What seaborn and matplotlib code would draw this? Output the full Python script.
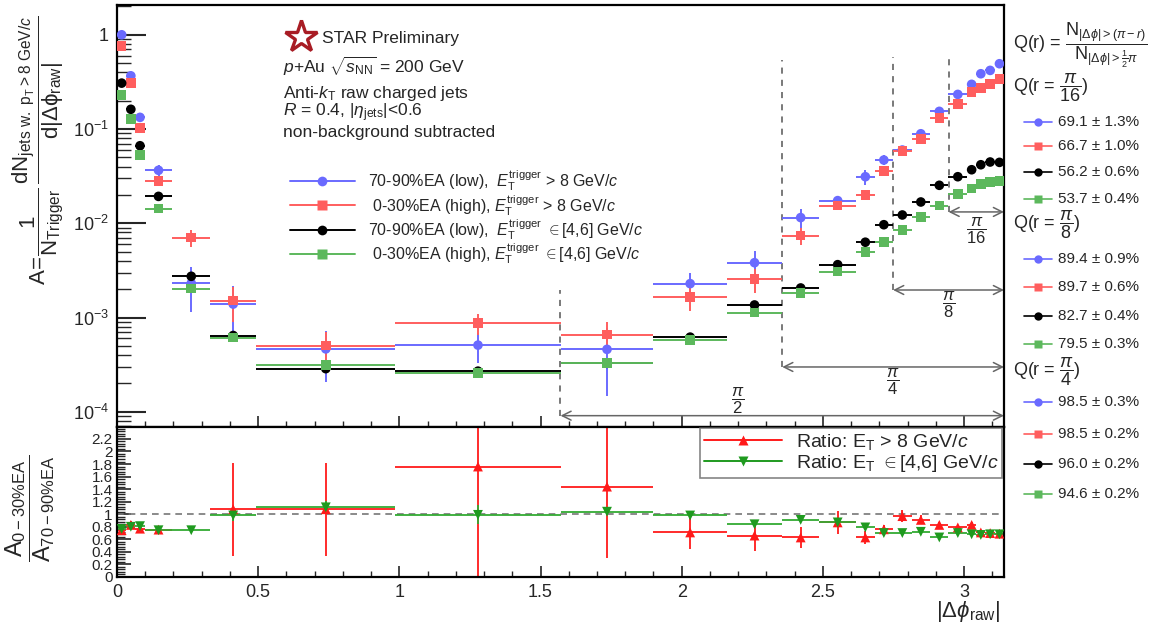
import numpy as np
import pandas as pd
import matplotlib
matplotlib.use("Agg")
import matplotlib.pyplot as plt
import matplotlib.ticker as mticker
from matplotlib.lines import Line2D
import seaborn as sns

sns.set_theme(style="white")
plt.rcParams["font.family"] = ["Liberation Sans", "DejaVu Sans"]
plt.rcParams["mathtext.fontset"] = "custom"
plt.rcParams["mathtext.rm"] = "Liberation Sans"
plt.rcParams["mathtext.it"] = "Liberation Sans:italic"
plt.rcParams["mathtext.bf"] = "Liberation Sans:bold"

# ---- data ----
bin_edges = [0, 0.033, 0.065, 0.098, 0.196, 0.33, 0.493, 0.986, 1.571, 1.90, 2.16, 2.356,
             2.487, 2.618, 2.683, 2.749, 2.814, 2.880, 2.945, 3.011, 3.043, 3.076, 3.109, 3.142]

low_high = [1.0, 0.367, 0.133, 0.0365, 2.31e-3, 1.39e-3, 4.65e-4, 5.1e-4, 4.6e-4, 2.29e-3, 3.82e-3,
            0.0115, 0.0174, 0.0312, 0.0469, 0.0599, 0.0891, 0.154, 0.233, 0.298, 0.386, 0.419, 0.493]
low_high_relerr = [0.02, 0.03, 0.05, 0.13, 0.5, 0.55, 0.55, 0.35, 0.68, 0.3, 0.33, 0.22, 0.1,
                   0.18, 0.12, 0.08, 0.06, 0.05, 0.03, 0.03, 0.03, 0.03, 0.03]
high_high = [0.764, 0.31, 0.103, 0.0281, 7.04e-3, 1.51e-3, 5.04e-4, 8.8e-4, 6.6e-4, 1.66e-3, 2.55e-3,
             7.4e-3, 0.0154, 0.0201, 0.0361, 0.0589, 0.0789, 0.130, 0.185, 0.247, 0.272, 0.30, 0.339]
high_high_relerr = [0.02, 0.03, 0.05, 0.08, 0.2, 0.4, 0.4, 0.25, 0.35, 0.3, 0.28, 0.2, 0.1,
                    0.12, 0.08, 0.06, 0.05, 0.04, 0.03, 0.03, 0.03, 0.03, 0.03]
low_mid = [0.307, 0.162, 0.0665, 0.0193, 2.74e-3, 6.45e-4, 2.87e-4, 2.7e-4, 3.27e-4, 6.2e-4, 1.36e-3,
           2.06e-3, 3.64e-3, 6.3e-3, 9.66e-3, 0.01225, 0.01683, 0.0253, 0.0312, 0.037, 0.0418, 0.0447, 0.0443]
low_mid_relerr = [0.01, 0.01, 0.02, 0.03, 0.08, 0.08, 0.1, 0.1, 0.1, 0.06, 0.05, 0.04, 0.04,
                  0.03, 0.03, 0.02, 0.02, 0.02, 0.02, 0.02, 0.02, 0.02, 0.02]
high_mid = [0.229, 0.127, 0.053, 0.0143, 2.03e-3, 6.12e-4, 3.12e-4, 2.6e-4, 3.3e-4, 5.8e-4, 1.13e-3,
            1.81e-3, 3.07e-3, 4.93e-3, 6.3e-3, 8.5e-3, 0.01166, 0.0154, 0.0206, 0.0235, 0.0263, 0.0274, 0.0281]
high_mid_relerr = [0.01, 0.01, 0.02, 0.03, 0.06, 0.06, 0.08, 0.08, 0.08, 0.05, 0.04, 0.03, 0.03,
                   0.02, 0.02, 0.02, 0.02, 0.02, 0.02, 0.02, 0.02, 0.02, 0.02]

ratio_high = [0.745, 0.83, 0.77, 0.755, np.nan, 1.08, 1.08, 1.76, 1.44, 0.71, 0.66, 0.63, 0.87,
              0.63, 0.76, 0.97, 0.91, 0.83, 0.79, 0.83, 0.71, 0.70, 0.69]
ratio_high_err = [0.05, 0.07, 0.07, 0.05, np.nan, 0.74, 0.74, 1.75, 1.14, 0.27, 0.25, 0.17, 0.18,
                  0.1, 0.07, 0.1, 0.07, 0.05, 0.04, 0.05, 0.03, 0.03, 0.03]
ratio_mid = [0.765, 0.80, 0.81, 0.745, 0.745, 0.98, 1.11, 0.99, 1.04, 0.98, 0.84, 0.91, 0.87,
             0.79, 0.70, 0.70, 0.72, 0.63, 0.70, 0.68, 0.67, 0.68, 0.68]
ratio_mid_err = [0.03, 0.03, 0.03, 0.02, 0.02, 0.08, 0.1, 0.15, 0.04, 0.05, 0.04, 0.04, 0.04,
                 0.03, 0.03, 0.02, 0.02, 0.02, 0.02, 0.02, 0.02, 0.02, 0.02]

q_labels = [r"Q(r = $\dfrac{\pi}{16}$)", r"Q(r = $\dfrac{\pi}{8}$)", r"Q(r = $\dfrac{\pi}{4}$)"]
q_values = [["69.1 ± 1.3%", "66.7 ± 1.0%", "56.2 ± 0.6%", "53.7 ± 0.4%"],
            ["89.4 ± 0.9%", "89.7 ± 0.6%", "82.7 ± 0.4%", "79.5 ± 0.3%"],
            ["98.5 ± 0.3%", "98.5 ± 0.2%", "96.0 ± 0.2%", "94.6 ± 0.2%"]]

r_cuts = [np.pi / 2, np.pi / 4, np.pi / 8, np.pi / 16]

# series styling
BLUE, RED, BLACK, GREEN = "#6a6aff", "#ff5e5e", "#000000", "#5cb85c"
series = [
    ("70-90%EA (low),  $E_{\\rm T}^{\\rm trigger}$ > 8 GeV/$c$", low_high, low_high_relerr, BLUE, "o"),
    (" 0-30%EA (high), $E_{\\rm T}^{\\rm trigger}$ > 8 GeV/$c$", high_high, high_high_relerr, RED, "s"),
    ("70-90%EA (low),  $E_{\\rm T}^{\\rm trigger}$ $\\in$[4,6] GeV/$c$", low_mid, low_mid_relerr, BLACK, "o"),
    (" 0-30%EA (high), $E_{\\rm T}^{\\rm trigger}$ $\\in$[4,6] GeV/$c$", high_mid, high_mid_relerr, GREEN, "s"),
]

edges = np.array(bin_edges)
xc = 0.5 * (edges[1:] + edges[:-1])
xw = 0.5 * (edges[1:] - edges[:-1])

rows = []
for name, vals, rel, col, mk in series:
    for x, v in zip(xc, vals):
        rows.append({"dphi": x, "A": v, "series": name})
df = pd.DataFrame(rows)

# ---- figure ----
W, H = 1160, 630
fig = plt.figure(figsize=(11.6, 6.3), dpi=100)
ax = fig.add_axes([117 / W, 1 - 427 / H, 887 / W, 422 / H])
axr = fig.add_axes([117 / W, 1 - 577 / H, 887 / W, 150 / H], sharex=ax)

for name, vals, rel, col, mk in series:
    v = np.array(vals)
    ax.errorbar(xc, v, xerr=xw, yerr=v * np.array(rel), fmt="none", ecolor=col, elinewidth=1.4, capsize=0, zorder=2)
sns.scatterplot(data=df, x="dphi", y="A", hue="series", style="series",
                palette={s[0]: s[3] for s in series}, markers={s[0]: s[4] for s in series},
                s=48, edgecolor="none", legend=False, ax=ax, zorder=3)

ax.set_yscale("log")
ax.set_xlim(0, np.pi)
ax.set_ylim(6.9e-5, 2.07)
ax.set_xlabel("")
ax.set_ylabel("")
ax.yaxis.set_major_locator(mticker.LogLocator(base=10, numticks=10))
ax.yaxis.set_minor_locator(mticker.LogLocator(base=10, subs=np.arange(2, 10), numticks=20))
ax.yaxis.set_major_formatter(mticker.FuncFormatter(lambda v, p: "1" if abs(v - 1) < 1e-9 else r"$10^{%d}$" % round(np.log10(v))))
ax.yaxis.set_minor_formatter(mticker.NullFormatter())
ax.xaxis.set_major_locator(mticker.MultipleLocator(0.5))
ax.xaxis.set_minor_locator(mticker.MultipleLocator(0.1))
ax.tick_params(axis="x", which="major", direction="in", length=8, width=1.2, labelbottom=False)
ax.tick_params(axis="x", which="minor", direction="in", length=4, width=1.0)
ax.tick_params(axis="y", which="major", direction="in", length=21, width=1.5, labelsize=13, pad=6)
ax.tick_params(axis="y", which="minor", direction="in", length=10, width=1.0)
ax.tick_params(left=True, bottom=True, right=False, top=False, which="both")

# dashed Q(r) boundaries and arrows
dash_top = [1.96e-3, 0.54, 0.58, 0.58]
arrow_y = [9.1e-5, 2.99e-4, 1.96e-3, 0.0132]
frac_pos = [(2.2, 1.3e-4), (2.749, 2.1e-4), (2.945, 1.35e-3), (3.043, 8.4e-3)]
frac_txt = [r"$\dfrac{\pi}{2}$", r"$\dfrac{\pi}{4}$", r"$\dfrac{\pi}{8}$", r"$\dfrac{\pi}{16}$"]
for r, top, ay, (fxp, fyp), ft in zip(r_cuts, dash_top, arrow_y, frac_pos, frac_txt):
    x0 = np.pi - r
    ax.plot([x0, x0], [ay, top], ls=(0, (4, 4)), color="#555555", lw=1.1, zorder=1)
    ax.annotate("", xy=(np.pi, ay), xytext=(x0, ay),
                arrowprops=dict(arrowstyle="<->", color="#666666", lw=1.1, mutation_scale=16,
                                shrinkA=0, shrinkB=0))
    ax.text(fxp, fyp, ft, fontsize=12, ha="center", va="center")

# STAR label and info
ax.plot([0.207], [0.924], marker="*", ms=24, mfc="none", mec="#a81c24", mew=2.4,
        transform=ax.transAxes, clip_on=False)
ax.text(0.231, 0.921, "STAR Preliminary", transform=ax.transAxes, fontsize=12.5, va="center")
info = [r"$p$+Au $\sqrt{s_{\rm NN}}$ = 200 GeV", r"Anti-$k_{\rm T}$ raw charged jets",
        r"$R$ = 0.4, |$\eta_{\rm jets}$|<0.6", "non-background subtracted"]
for txt, yy in zip(info, [0.855, 0.79, 0.745, 0.698]):
    ax.text(0.187, yy, txt, transform=ax.transAxes, fontsize=12.5, va="center")

# top legend
for i, (name, vals, rel, col, mk) in enumerate(series):
    yy = 0.583 - i * 0.0575
    ax.add_line(Line2D([0.195, 0.268], [yy, yy], color=col, lw=1.4, transform=ax.transAxes))
    ax.plot([0.2315], [yy], marker=mk, ms=7, color=col, mec="none", transform=ax.transAxes)
    ax.text(0.283, yy, name, transform=ax.transAxes, fontsize=11.5, va="center")

for sp in ax.spines.values():
    sp.set_linewidth(1.6)
    sp.set_color("black")

# ---- ratio panel ----
RRED, RGREEN = "#ff1a1a", "#1f9a1f"
axr.axhline(1.0, color="#777777", ls=(0, (4, 3)), lw=1.2, zorder=1)
axr.errorbar(xc, ratio_high, xerr=xw, yerr=ratio_high_err, fmt="none", ecolor=RRED, elinewidth=1.3, capsize=0, zorder=2)
axr.errorbar(xc, ratio_mid, xerr=xw, yerr=ratio_mid_err, fmt="none", ecolor="#33aa33", elinewidth=1.3, capsize=0, zorder=2)
rdf = pd.DataFrame({"dphi": np.concatenate([xc, xc]),
                    "ratio": np.concatenate([ratio_high, ratio_mid]),
                    "set": ["high"] * len(xc) + ["mid"] * len(xc)})
sns.scatterplot(data=rdf, x="dphi", y="ratio", hue="set", style="set",
                palette={"high": RRED, "mid": RGREEN}, markers={"high": "^", "mid": "v"},
                s=50, edgecolor="none", legend=False, ax=axr, zorder=3)
axr.set_xlim(0, np.pi)
axr.set_ylim(0, 2.39)
axr.set_xlabel("")
axr.set_ylabel("")


def short_num(v, p):
    s = ("%.1f" % v)
    return s[:-2] if s.endswith(".0") else s


axr.yaxis.set_major_locator(mticker.MultipleLocator(0.2))
axr.yaxis.set_minor_locator(mticker.MultipleLocator(0.04))
axr.yaxis.set_major_formatter(mticker.FuncFormatter(short_num))
axr.xaxis.set_major_formatter(mticker.FuncFormatter(short_num))
axr.tick_params(axis="y", which="major", direction="in", length=10, width=1.2, labelsize=11, pad=3)
axr.tick_params(axis="y", which="minor", direction="in", length=6, width=1.0)
axr.tick_params(axis="x", which="major", direction="in", length=8, width=1.2, labelsize=13, pad=5)
axr.tick_params(axis="x", which="minor", direction="in", length=4, width=1.0)
axr.tick_params(left=True, bottom=True, right=False, top=False, which="both")
for sp in axr.spines.values():
    sp.set_linewidth(1.6)
    sp.set_color("black")

leg_h = [Line2D([], [], color=RRED, marker="^", ms=7, mec="none", lw=1.4),
         Line2D([], [], color=RGREEN, marker="v", ms=7, mec="none", lw=1.4)]
leg = axr.legend(leg_h, [r"Ratio: E$_{\rm T}$ > 8 GeV/$c$", r"Ratio: E$_{\rm T}$ $\in$[4,6] GeV/$c$"],
                 loc="upper right", bbox_to_anchor=(0.998, 0.995), fontsize=14, frameon=True,
                 fancybox=False, handlelength=4.0, borderpad=0.2, labelspacing=0.08, borderaxespad=0,
                 handletextpad=0.7)
leg.get_frame().set_edgecolor("#666666")
leg.get_frame().set_linewidth(1.2)

# axis titles
fig.text(38 / W, 1 - 150 / H,
         r"${\rm A}\!=\!\dfrac{\rm 1}{{\rm N}_{\rm Trigger}}\,\dfrac{{\rm dN}_{\rm jets\ w.\ p_{T}>8\ GeV/\mathit{c}}}{{\rm d}\left|\Delta\phi_{\rm raw}\right|}$",
         rotation=90, fontsize=16, ha="center", va="center")
fig.text(30 / W, 1 - 508 / H, r"$\dfrac{{\rm A}_{\rm 0-30\%EA}}{{\rm A}_{\rm 70-90\%EA}}$",
         rotation=90, fontsize=17, ha="center", va="center")
fig.text(968 / W, 1 - 612 / H, r"$\left|\Delta\phi_{\rm raw}\right|$", fontsize=16, ha="center", va="center")

# right-hand Q(r) panel
fig.text(1013 / W, 1 - 45 / H, r"Q(r) = $\dfrac{{\rm N}_{|\Delta\phi|>(\pi-r)}}{{\rm N}_{|\Delta\phi|>\frac{1}{2}\pi}}$",
         fontsize=13, va="center")
title_y = [88, 225, 372]
entry_y = [[122, 146, 172, 199], [259, 287, 316, 344], [402, 434, 464, 494]]
for lab, vals, ty, eys in zip(q_labels, q_values, title_y, entry_y):
    fig.text(1013 / W, 1 - ty / H, lab, fontsize=13, va="center")
    for (name, _, _, col, mk), txt, ey in zip(series, vals, eys):
        yy = 1 - ey / H
        fig.add_artist(Line2D([1024 / W, 1052 / W], [yy, yy], color=col, lw=1.2, transform=fig.transFigure))
        fig.add_artist(Line2D([1038 / W], [yy], marker=mk, ms=6, color=col, mec="none", transform=fig.transFigure))
        fig.text(1058 / W, yy, txt, fontsize=11, va="center")

fig.savefig("out.png", dpi=100, facecolor="white")
